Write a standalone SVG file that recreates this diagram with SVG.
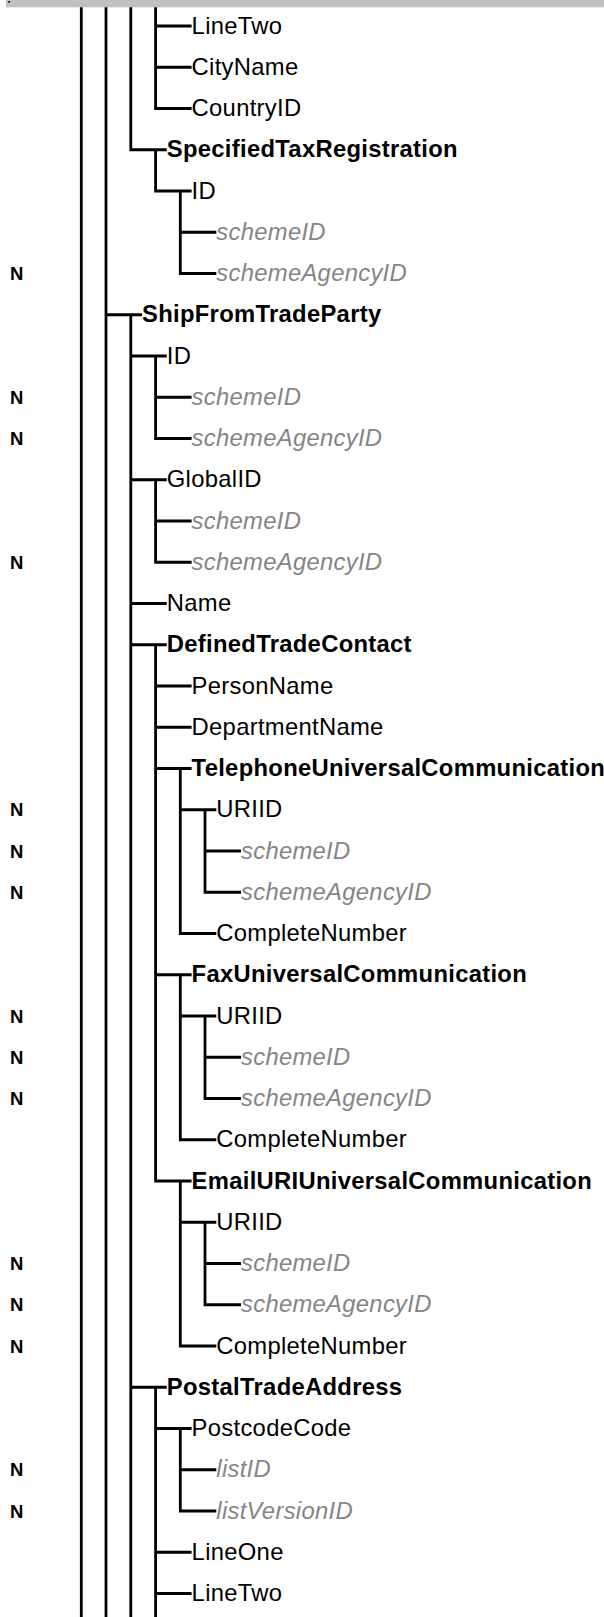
<svg xmlns="http://www.w3.org/2000/svg" width="604" height="1617" viewBox="0 0 604 1617">
<style>
text{font-family:"Liberation Sans",Arial,sans-serif;font-size:23.8px;letter-spacing:0.3px;fill:#000}
.b{font-weight:bold}
.a{font-style:italic;fill:#858585}
.n{font-weight:bold;font-size:18.5px;letter-spacing:0}
.c path{fill:none;stroke:#000;stroke-width:2.8;stroke-linejoin:miter;stroke-linecap:butt}
</style>
<rect x="0" y="0" width="604" height="1617" fill="#fff"/>
<rect x="6" y="0" width="598" height="7.3" fill="#c0c0c0"/>
<rect x="8.3" y="1" width="1.7" height="1.7" fill="#000"/>
<g id="connectors" class="c">
<path d="M81.3 7.3V1617"/>
<path d="M106 7.3V1617"/>
<path d="M130.8 7.3V149.75H166.8"/>
<path d="M155.6 7.3V108.5H191.6M155.6 26H191.6M155.6 67.25H191.6"/>
<path d="M155.6 149.75V191H191.6"/>
<path d="M180.3 191V273.5H216.3M180.3 232.25H216.3"/>
<path d="M106 314.75H142"/>
<path d="M130.8 314.75V1617M130.8 356H166.8M130.8 479.75H166.8M130.8 603.5H166.8M130.8 644.75H166.8M130.8 1387.25H166.8"/>
<path d="M155.6 356V438.5H191.6M155.6 397.25H191.6"/>
<path d="M155.6 479.75V562.25H191.6M155.6 521H191.6"/>
<path d="M155.6 644.75V1181H191.6M155.6 686H191.6M155.6 727.25H191.6M155.6 768.5H191.6M155.6 974.75H191.6"/>
<path d="M180.3 768.5V933.5H216.3M180.3 809.75H216.3"/>
<path d="M205 809.75V892.25H241M205 851H241"/>
<path d="M180.3 974.75V1139.75H216.3M180.3 1016H216.3"/>
<path d="M205 1016V1098.5H241M205 1057.25H241"/>
<path d="M180.3 1181V1346H216.3M180.3 1222.25H216.3"/>
<path d="M205 1222.25V1304.75H241M205 1263.5H241"/>
<path d="M155.6 1387.25V1617M155.6 1428.5H191.6M155.6 1552.25H191.6M155.6 1593.5H191.6"/>
<path d="M180.3 1428.5V1511H216.3M180.3 1469.75H216.3"/>
</g>
<g id="n0"><text x="191.6" y="33.5">LineTwo</text></g>
<g id="n1"><text x="191.6" y="74.75">CityName</text></g>
<g id="n2"><text x="191.6" y="116">CountryID</text></g>
<g id="n3"><text class="b" x="166.8" y="157.25">SpecifiedTaxRegistration</text></g>
<g id="n4"><text x="191.6" y="198.5">ID</text></g>
<g id="n5"><text class="a" x="216.3" y="239.75">schemeID</text></g>
<g id="n6"><text class="n" x="10" y="280">N</text><text class="a" x="216.3" y="281">schemeAgencyID</text></g>
<g id="n7"><text class="b" x="142" y="322.25">ShipFromTradeParty</text></g>
<g id="n8"><text x="166.8" y="363.5">ID</text></g>
<g id="n9"><text class="n" x="10" y="403.75">N</text><text class="a" x="191.6" y="404.75">schemeID</text></g>
<g id="n10"><text class="n" x="10" y="445">N</text><text class="a" x="191.6" y="446">schemeAgencyID</text></g>
<g id="n11"><text x="166.8" y="487.25">GlobalID</text></g>
<g id="n12"><text class="a" x="191.6" y="528.5">schemeID</text></g>
<g id="n13"><text class="n" x="10" y="568.75">N</text><text class="a" x="191.6" y="569.75">schemeAgencyID</text></g>
<g id="n14"><text x="166.8" y="611">Name</text></g>
<g id="n15"><text class="b" x="166.8" y="652.25">DefinedTradeContact</text></g>
<g id="n16"><text x="191.6" y="693.5">PersonName</text></g>
<g id="n17"><text x="191.6" y="734.75">DepartmentName</text></g>
<g id="n18"><text class="b" x="191.6" y="776">TelephoneUniversalCommunication</text></g>
<g id="n19"><text class="n" x="10" y="816.25">N</text><text x="216.3" y="817.25">URIID</text></g>
<g id="n20"><text class="n" x="10" y="857.5">N</text><text class="a" x="241" y="858.5">schemeID</text></g>
<g id="n21"><text class="n" x="10" y="898.75">N</text><text class="a" x="241" y="899.75">schemeAgencyID</text></g>
<g id="n22"><text x="216.3" y="941">CompleteNumber</text></g>
<g id="n23"><text class="b" x="191.6" y="982.25">FaxUniversalCommunication</text></g>
<g id="n24"><text class="n" x="10" y="1022.5">N</text><text x="216.3" y="1023.5">URIID</text></g>
<g id="n25"><text class="n" x="10" y="1063.75">N</text><text class="a" x="241" y="1064.75">schemeID</text></g>
<g id="n26"><text class="n" x="10" y="1105">N</text><text class="a" x="241" y="1106">schemeAgencyID</text></g>
<g id="n27"><text x="216.3" y="1147.25">CompleteNumber</text></g>
<g id="n28"><text class="b" x="191.6" y="1188.5">EmailURIUniversalCommunication</text></g>
<g id="n29"><text x="216.3" y="1229.75">URIID</text></g>
<g id="n30"><text class="n" x="10" y="1270">N</text><text class="a" x="241" y="1271">schemeID</text></g>
<g id="n31"><text class="n" x="10" y="1311.25">N</text><text class="a" x="241" y="1312.25">schemeAgencyID</text></g>
<g id="n32"><text class="n" x="10" y="1352.5">N</text><text x="216.3" y="1353.5">CompleteNumber</text></g>
<g id="n33"><text class="b" x="166.8" y="1394.75">PostalTradeAddress</text></g>
<g id="n34"><text x="191.6" y="1436">PostcodeCode</text></g>
<g id="n35"><text class="n" x="10" y="1476.25">N</text><text class="a" x="216.3" y="1477.25">listID</text></g>
<g id="n36"><text class="n" x="10" y="1517.5">N</text><text class="a" x="216.3" y="1518.5">listVersionID</text></g>
<g id="n37"><text x="191.6" y="1559.75">LineOne</text></g>
<g id="n38"><text x="191.6" y="1601">LineTwo</text></g>
</svg>
